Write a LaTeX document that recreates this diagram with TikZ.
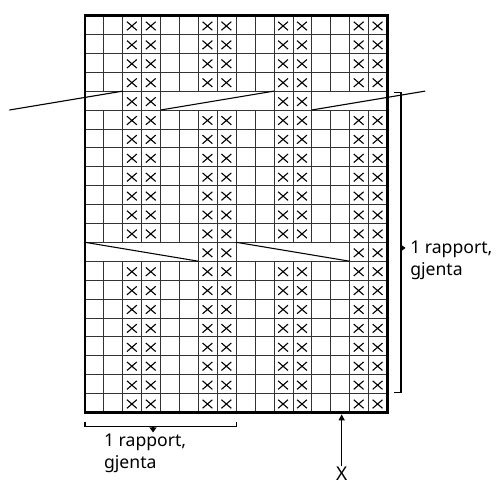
\documentclass[tikz,border=0pt]{standalone}
\usepackage{fontspec}
\setmainfont{Noto Sans}
\usetikzlibrary{arrows.meta,positioning}

\begin{document}
\begin{tikzpicture}[x=18.9pt,y=-18.9pt,
  gridline/.style={black!80,line width=0.8pt},
  kryss/.style={line width=1.1pt},
  skift/.style={line width=1.1pt},
  klamme/.style={line width=1.1pt},
  pil/.style={-{Triangle[length=5pt,width=7pt]},line width=1.1pt},
  rapporttekst/.style={font=\fontsize{17.6}{22}\selectfont,align=left,inner sep=0pt}]
\useasboundingbox (-4.497,-0.820) rectangle (22.063,24.894);

% rutenett
\foreach \r in {1,...,20}
  \draw[gridline] (0,\r) -- (16,\r);
\foreach \c in {1,...,15}
  \draw[gridline] (\c,0) -- (\c,4) (\c,5) -- (\c,12) (\c,13) -- (\c,21);
\foreach \c in {2,3,4,10,11,12}
  \draw[gridline] (\c,4) -- (\c,5);
\foreach \c in {6,7,8,14,15}
  \draw[gridline] (\c,12) -- (\c,13);

% kryss
\foreach \r in {0,1,2,3,5,6,7,8,9,10,11,13,14,15,16,17,18,19,20}
  \foreach \c in {2,3,6,7,10,11,14,15}
    \draw[kryss] (\c+0.22,\r+0.33) -- (\c+0.74,\r+0.78) (\c+0.22,\r+0.78) -- (\c+0.74,\r+0.33);
\foreach \c in {2,3,10,11}
  \draw[kryss] (\c+0.22,4.33) -- (\c+0.74,4.78) (\c+0.22,4.78) -- (\c+0.74,4.33);
\foreach \c in {6,7,14,15}
  \draw[kryss] (\c+0.22,12.33) -- (\c+0.74,12.78) (\c+0.22,12.78) -- (\c+0.74,12.33);

% forskyvning
\foreach \c in {-4,4,12}
  \draw[skift] (\c,5) -- (\c+6,4);
\foreach \c in {0,8}
  \draw[skift] (\c,12) -- (\c+6,13);

\draw[line width=2.2pt] (0,0) rectangle (16,21);

% rapport, hoyre
\draw[klamme] (16.35,4.06) -- (16.72,4.06) -- (16.72,19.94) -- (16.35,19.94);
\coordinate (hmidt) at (16.72,12.3);
\draw[pil] (hmidt) -- ++(0.24,0);
\node[rapporttekst,anchor=north west] (rapportH) at (17.2,11.9) {1 rapport,\\gjenta};

% rapport, nede
\draw[klamme] (0,21.49) -- (0,21.76) -- (8.03,21.76) -- (8.03,21.49);
\coordinate (vmidt) at (3.6,21.76);
\draw[pil] (vmidt) -- ++(0,0.3);
\node[rapporttekst,anchor=north west] (rapportV) at (1.0,22.15) {1 rapport,\\gjenta};

% X
\node[font=\fontsize{19}{19}\selectfont,inner sep=0pt,anchor=north] (x) at (13.58,23.85) {X};
\coordinate (xtopp) at (13.58,21.1);
\draw[-{Triangle[length=6pt,width=6pt]},line width=1.1pt] (x) -- (xtopp);
\end{tikzpicture}
\end{document}
